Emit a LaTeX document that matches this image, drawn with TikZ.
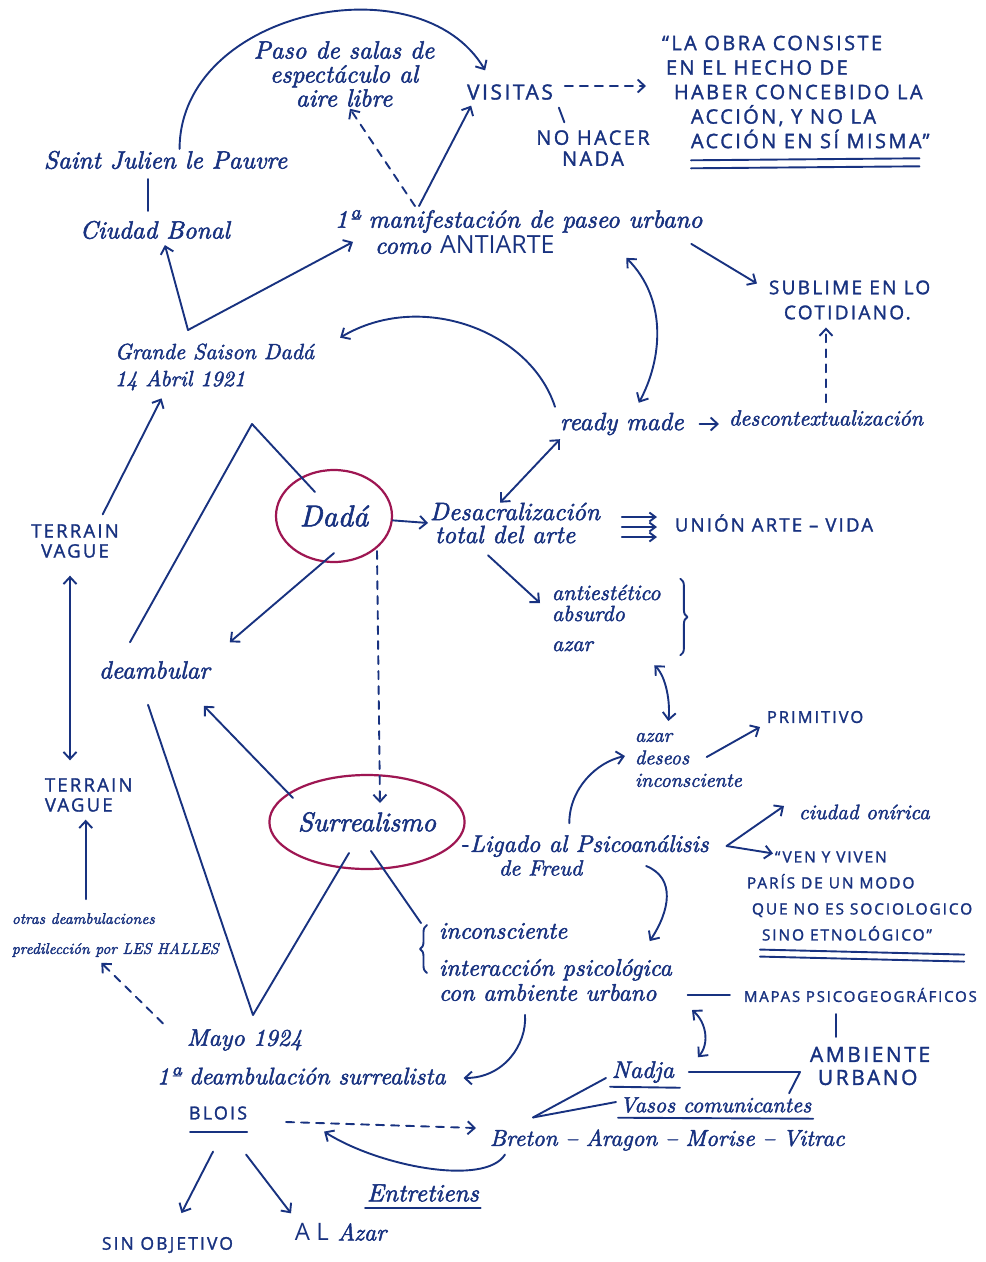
\documentclass[tikz,border=0pt]{standalone}
\usepackage{fontspec}
\setsansfont{Open Sans}
\newfontfamily\manuscrita{lmroman10-italic.otf}[FakeBold=2]
\usetikzlibrary{arrows.meta,shapes.geometric,decorations.pathreplacing}
\definecolor{tinta}{RGB}{24,50,128}
\definecolor{granate}{RGB}{158,22,82}

\begin{document}
\begin{tikzpicture}[x=1pt, y=-1pt, color=tinta, line width=1.9pt, line cap=round, line join=round,
    mano/.style 2 args={font=\fontsize{#1}{#2}\selectfont\manuscrita, inner sep=1pt, align=left},
    mayus/.style 2 args={font=\fontsize{#1}{#2}\selectfont\sffamily\addfontfeatures{LetterSpace=12,FakeBold=1.5}, inner sep=1pt, align=left},
    ovalo/.style={ellipse, draw=granate, line width=2.2pt, inner sep=0pt},
    flecha/.style={-{Straight Barb[length=7pt,width=13pt]}},
    dobleflecha/.style={{Straight Barb[length=7pt,width=13pt]}-{Straight Barb[length=7pt,width=13pt]}},
    trazos/.style={dash pattern=on 8pt off 7pt},
    llave/.style={decorate, decoration={brace, amplitude=7pt}}]
    \fill[white] (0,0) rectangle (986,1262);
    \useasboundingbox (0,0) rectangle (986,1262);
    % parte de arriba
    \node[mano={25}{24}, align=center] (paso) at (344,74) {Paso de salas de\\espectáculo al\\aire libre};
    \node[mayus={21}{20}] (visitas) at (510,92) {VISITAS};
    \node[mayus={20}{21}, align=center] (nohacer) at (593,148) {NO HACER\\NADA};
    \node[mayus={20}{24.5}, anchor=west] (cita) at (660,92) {“LA OBRA CONSISTE\\\hspace*{4pt}EN EL HECHO DE\\\hspace*{12pt}HABER CONCEBIDO LA\\\hspace*{29pt}ACCIÓN, Y NO LA\\\hspace*{29pt}ACCIÓN EN SÍ MISMA”};
    \node[mano={25}{26}, anchor=west] (stjulien) at (42,160) {Saint Julien le Pauvre};
    \node[mano={25}{26}, anchor=west] (ciudad) at (78,230) {Ciudad Bonal};
    \node[mano={25}{26}, anchor=west] (manif) at (333,232) {1ª manifestación de paseo urbano\\\hspace*{40pt}como \textup{\sffamily ANTIARTE}};
    \node[mayus={19}{25}, anchor=west] (sublime) at (767,300) {SUBLIME EN LO\\\hspace*{15pt}COTIDIANO.};
    \node[mano={22}{27}, anchor=west] (grande) at (113,367) {Grande Saison Dadá\\14 Abril 1921};
    \node[mano={25}{26}, anchor=west] (ready) at (558,424) {ready made};
    \node[mano={22}{26}, anchor=west] (descon) at (727,418) {descontextualización};
    % centro
    \node[mayus={18.5}{20}, align=center] (terrain1) at (75,541) {TERRAIN\\VAGUE};
    \node[ovalo, minimum width=116pt, minimum height=92pt, font=\fontsize{30}{30}\selectfont\manuscrita] (dada) at (334,516) {Dadá};
    \node[mano={25}{23}, anchor=west] (desacr) at (428,523) {Desacralización\\\hspace*{5pt}total del arte};
    \node[mayus={18.5}{20}, anchor=west] (union) at (673,523) {UNIÓN ARTE – VIDA};
    \node[mano={22}{21}, anchor=west] (lista) at (550,618) {antiestético\\absurdo\\[9pt]azar};
    \node[mano={25}{26}, anchor=west] (deamb) at (97,670) {deambular};
    \node[mayus={16.5}{20}, anchor=west] (primitivo) at (765,717) {PRIMITIVO};
    \node[mano={20}{22.5}, anchor=west] (azar2) at (633,760) {azar\\deseos\\inconsciente};
    \node[mayus={18.5}{20}, anchor=west] (terrain2) at (43,795) {TERRAIN\\VAGUE};
    \node[mano={21}{22}, anchor=west] (onirica) at (797,812) {ciudad onírica};
    \node[ovalo, minimum width=174pt, minimum height=94pt, font=\fontsize{27}{27}\selectfont\manuscrita] (surr) at (367,822) {Surrealismo};
    \node[mano={24}{26}, anchor=west] (ligado) at (468,846) {Ligado al Psicoanálisis};
    \node[mano={22}{26}, anchor=west] (freud) at (497,868) {de Freud};
    \node[mayus={15.5}{26}, anchor=west] (ven) at (745,896) {\hspace*{28pt}“VEN Y VIVEN\\PARÍS DE UN MODO\\\hspace*{5pt}QUE NO ES SOCIOLOGICO\\\hspace*{15pt}SINO ETNOLÓGICO”};
    % parte de abajo
    \node[mano={15.5}{30}, anchor=west] (otras) at (10,935) {otras deambulaciones\\predilección por LES HALLES};
    \node[mano={24}{25}, anchor=west] (incons) at (437,962) {inconsciente\\[12pt]interacción psicológica\\con ambiente urbano};
    \node[mayus={15}{20}, anchor=west] (mapas) at (742,995) {MAPAS PSICOGEOGRÁFICOS};
    \node[mayus={21}{23}, anchor=west] (ambiente) at (808,1066) {AMBIENTE\\\hspace*{8pt}URBANO};
    \node[mano={24}{26}, anchor=west] (mayo) at (185,1040) {Mayo 1924};
    \node[mano={24}{26}, anchor=west] (primera) at (155,1076) {1ª deambulación surrealista};
    \node[mayus={18}{24}, anchor=west] (blois) at (187,1113) {BLOIS};
    \node[mano={24}{26}, anchor=west] (nadja) at (610,1072) {Nadja};
    \node[mano={22}{26}, anchor=west] (vasos) at (618,1105) {Vasos comunicantes};
    \node[mano={23}{26}, anchor=west] (breton) at (488,1140) {Breton – Aragon – Morise – Vitrac};
    \node[mano={25}{26}, anchor=west] (entre) at (365,1193) {Entretiens};
    \node[mayus={17.5}{20}, anchor=west] (sinobj) at (100,1245) {SIN OBJETIVO};
    \node[mano={24}{26}, anchor=west] (alazar) at (293,1232) {\textup{\sffamily A L} Azar};
    % vertices sueltos
    \coordinate (picoG) at (188,330);
    \coordinate (picoD) at (252,424);
    \coordinate (picoM) at (253,1015);
    \coordinate (horq) at ([xshift=16pt]ligado.east);
    \coordinate (horqB) at ([xshift=45pt,yshift=10pt]breton.north west);
    % flechas de arriba
    \draw[flecha] ([xshift=14pt]stjulien.north) .. controls (180,10) and (420,-40) .. ([xshift=20pt,yshift=12pt]visitas.north west);
    \draw[flecha, trazos] ([xshift=82pt,yshift=2pt]manif.north west) -- ([xshift=6pt]paso.south);
    \draw[flecha] ([xshift=86pt,yshift=2pt]manif.north west) -- ([xshift=6pt,yshift=-4pt]visitas.south west);
    \draw[flecha, trazos, shorten <=10pt, shorten >=14pt] ([yshift=6pt]visitas.east) -- ([yshift=6pt]visitas.east -| cita.west);
    \draw ([xshift=4pt,yshift=-6pt]visitas.south east) -- ([xshift=30pt,yshift=6pt]nohacer.north west);
    \draw[shorten <=8pt, shorten >=8pt] ([xshift=-18pt]stjulien.south) -- ([xshift=-18pt]stjulien.south |- ciudad.north);
    \draw[flecha] (picoG) -- ([xshift=10pt,yshift=-4pt]ciudad.south);
    \draw[flecha] (picoG) -- ([xshift=20pt,yshift=14pt]manif.south west);
    \draw[flecha] ([xshift=-13pt,yshift=12pt]manif.south east) -- ([xshift=-10pt,yshift=-5pt]sublime.north west);
    \draw[flecha, trazos, shorten <=6pt, shorten >=6pt] (descon.north) -- (descon.north |- sublime.south);
    \draw[flecha] ([xshift=-3pt,yshift=4pt]ready.north west) .. controls (530,330) and (420,290) .. ([xshift=24pt,yshift=4pt]grande.north east);
    \draw[dobleflecha] ([xshift=-78pt,yshift=-2pt]manif.south east) .. controls (668,300) and (662,360) .. ([xshift=17pt,yshift=8pt]ready.north);
    \draw[flecha] ([xshift=14pt]ready.east) -- ([xshift=-8pt]ready.east -| descon.west);
    \draw[dobleflecha] ([xshift=2pt,yshift=-2pt]ready.south west) -- ([xshift=72pt,yshift=-2pt]desacr.north west);
    % flechas del centro
    \draw[flecha] (dada) -- (desacr.west);
    \foreach \d in {6,-4,-14}
        \draw[-{Straight Barb[length=6pt,width=9pt]}, shorten <=20pt, shorten >=16pt] ([yshift=\d pt]desacr.east) -- ([yshift=\d pt]desacr.east -| union.west);
    \draw[flecha] ([xshift=60pt,yshift=-10pt]desacr.south west) -- ([xshift=-10pt,yshift=15pt]lista.west);
    \draw[llave] ([xshift=18pt,yshift=4pt]lista.north east) -- ([xshift=18pt,yshift=-2pt]lista.south east);
    \draw[dobleflecha] ([xshift=-8pt,yshift=-12pt]lista.south east) .. controls +(12,12) and +(2,-18) .. ([xshift=-20pt,yshift=10pt]azar2.north);
    \draw ([xshift=33pt,yshift=17pt]deamb.north west) -- (picoD) -- ([xshift=-19pt,yshift=24pt]dada.center);
    \draw[flecha] ([yshift=10pt]dada.south) -- ([xshift=18pt,yshift=17pt]deamb.north east);
    \draw[flecha, trazos] ([xshift=43pt,yshift=12pt]dada.south) -- ([xshift=13pt,yshift=19pt]surr.center);
    \draw[flecha] ([xshift=-74pt,yshift=24pt]surr.center) -- ([xshift=-8pt,yshift=-25pt]deamb.south east);
    \draw ([xshift=-3pt]surr.east |- ligado.west) -- (ligado.west);
    \draw[flecha] ([xshift=-20pt,yshift=10pt]ligado.north) .. controls +(0,-35) and +(-28,6) .. ([xshift=-8pt,yshift=4pt]azar2.west);
    \draw[flecha] ([xshift=-37pt,yshift=3pt]azar2.east) -- ([xshift=-5pt,yshift=-2pt]primitivo.south west);
    \draw[flecha] (horq) -- ([xshift=-13pt,yshift=6pt]onirica.west);
    \draw[flecha] (horq) -- ([xshift=28pt,yshift=-4pt]ven.north west);
    \draw[flecha] ([xshift=62pt,yshift=2pt]freud.east) .. controls +(30,12) and +(20,-30) .. ([xshift=-24pt,yshift=-20pt]incons.north east);
    \draw[dobleflecha, shorten <=16pt, shorten >=16pt] ([xshift=-5pt]terrain1.south) -- ([xshift=-5pt]terrain1.south |- terrain2.north);
    \draw[flecha] ([xshift=-18pt,yshift=8pt]terrain1.north east) -- ([xshift=-53pt,yshift=-6pt]grande.south);
    % flechas de abajo
    \draw[flecha, shorten <=12pt, shorten >=6pt] ([xshift=-3pt]terrain2.south |- otras.north) -- ([xshift=-3pt]terrain2.south);
    \draw[flecha, trazos] ([xshift=-22pt,yshift=4pt]mayo.north west) -- ([xshift=-14pt,yshift=-4pt]otras.south);
    \draw ([xshift=51pt,yshift=-24pt]deamb.south west) -- (picoM) -- ([xshift=-18pt,yshift=-31pt]surr.center);
    \draw ([xshift=4pt,yshift=-29pt]surr.center) -- ([xshift=-16pt,yshift=-2pt]incons.north west);
    \draw[llave] ([xshift=-10pt,yshift=30pt]incons.south west) -- ([xshift=-10pt,yshift=-4pt]incons.north west);
    \draw[flecha] ([xshift=88pt,yshift=-12pt]incons.south west) .. controls +(2,30) and +(40,0) .. ([xshift=16pt,yshift=-2pt]primera.east);
    \draw[shorten <=14pt, shorten >=12pt] (mapas.west -| incons.east) -- (mapas.west);
    \draw[shorten <=10pt, shorten >=8pt] ([xshift=-24pt]mapas.south) -- ([xshift=-24pt]mapas.south |- ambiente.north);
    \draw[dobleflecha] ([xshift=-50pt,yshift=-6pt]mapas.south west) .. controls +(14,12) and +(12,-14) .. ([xshift=22pt,yshift=2pt]nadja.north east);
    \draw ([xshift=13pt]nadja.east) -- ([xshift=-8pt]nadja.east -| ambiente.west) -- ([xshift=-24pt,yshift=2pt]vasos.north east);
    \draw (horqB) -- ([xshift=-4pt,yshift=-6pt]nadja.west);
    \draw (horqB) -- ([xshift=-2pt,yshift=3pt]vasos.west);
    \draw[flecha, trazos] ([xshift=37pt,yshift=-9pt]blois.east) -- ([xshift=-12pt,yshift=12pt]breton.west);
    \draw[flecha] ([xshift=17pt,yshift=-2pt]breton.south west) .. controls +(-20,32) and +(55,35) .. ([xshift=75pt,yshift=-10pt]blois.south east);
    \draw[flecha] ([xshift=-5pt,yshift=-30pt]blois.south) -- ([xshift=14pt,yshift=22pt]sinobj.north);
    \draw[flecha] ([xshift=-3pt,yshift=-33pt]blois.south east) -- ([xshift=-2pt,yshift=8pt]alazar.north west);
    % subrayados
    \draw ([xshift=31pt,yshift=-10pt]cita.south west) -- ([xshift=-12pt,yshift=-8pt]cita.south east);
    \draw ([xshift=31pt,yshift=-18pt]cita.south west) -- ([xshift=-12pt,yshift=-16pt]cita.south east);
    \draw ([xshift=15pt,yshift=-7pt]ven.south west) -- ([xshift=-10pt,yshift=-12pt]ven.south east);
    \draw ([xshift=15pt,yshift=-14pt]ven.south west) -- ([xshift=-10pt,yshift=-19pt]ven.south east);
    \draw ([xshift=3pt,yshift=-10pt]blois.south west) -- ([xshift=-2pt,yshift=-10pt]blois.south east);
    \draw ([yshift=-2pt]nadja.south west) -- ([xshift=4pt,yshift=-3pt]nadja.south east);
    \draw ([yshift=-3pt]vasos.south west) -- ([yshift=-4pt]vasos.south east);
    \draw ([yshift=-4pt]entre.south west) -- ([yshift=-4pt]entre.south east);
\end{tikzpicture}
\end{document}
